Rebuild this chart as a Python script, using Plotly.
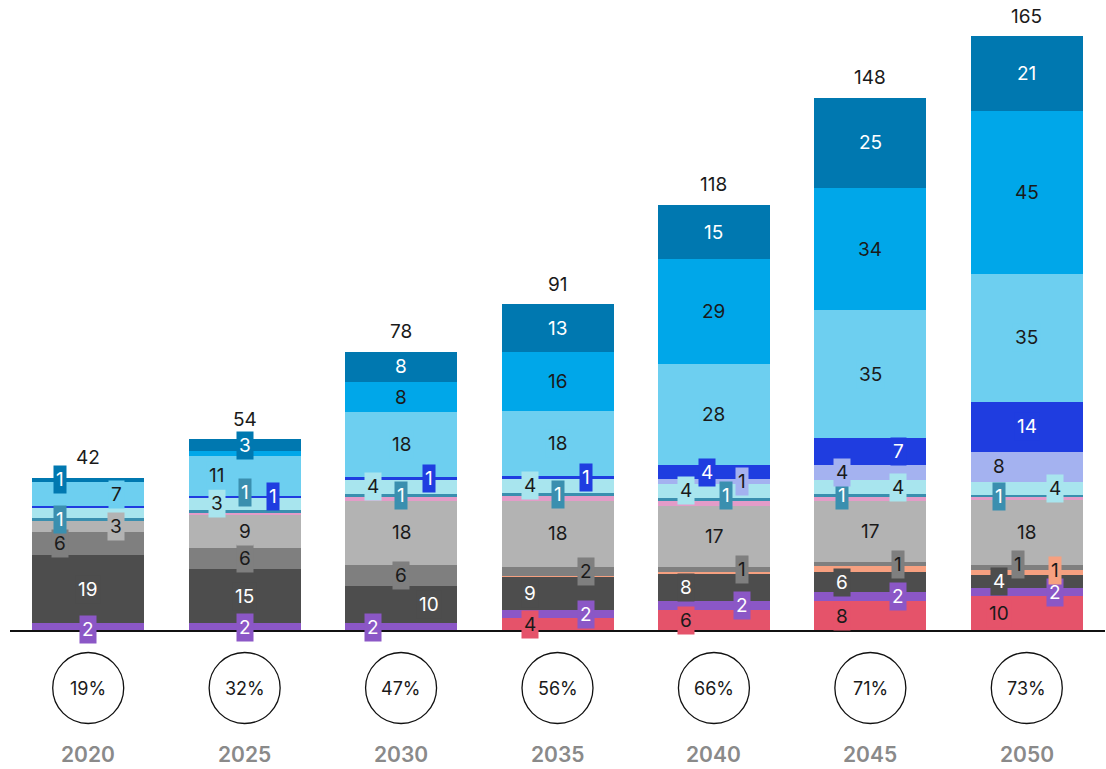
import plotly.graph_objects as go

YEARS = ["2020", "2025", "2030", "2035", "2040", "2045", "2050"]
TOTALS = [42, 54, 78, 91, 118, 148, 165]
SHARES = ["19%", "32%", "47%", "56%", "66%", "71%", "73%"]

# stacked series, bottom to top
red = [0, 0, 0, 3.5, 5.8, 8.3, 9.7]
purple = [2.2, 2.2, 2.2, 2.4, 2.4, 2.4, 2.2]
dark_grey = [18.8, 14.9, 10.2, 9.2, 7.6, 5.7, 3.6]
salmon = [0, 0, 0, 0.2, 0.55, 1.5, 1.4]
mid_grey = [6.4, 5.9, 5.9, 2.4, 1.4, 1.2, 1.4]
light_grey = [3.0, 9.4, 17.8, 18.4, 17.0, 16.9, 18.0]
pink = [0, 0.15, 0.9, 1.4, 1.4, 1.1, 0.75]
teal = [0.9, 1.1, 1.0, 0.75, 0.7, 0.9, 0.6]
pale_cyan = [2.9, 3.2, 3.9, 3.9, 4.0, 3.7, 3.7]
lavender = [0, 0, 0, 0, 1.3, 4.4, 8.3]
blue = [0.4, 0.6, 0.7, 0.7, 3.7, 7.3, 13.9]
light_blue = [6.6, 11.0, 18.0, 18.0, 28.2, 35.4, 35.4]
bright_blue = [0, 1.3, 8.3, 16.3, 28.9, 34.0, 45.0]
dark_blue = [1.3, 3.4, 8.5, 13.4, 15.1, 24.9, 20.8]

# name, values, fill, label text colour
SERIES = [
    ("red", red, "#E5536A", "#1a1a1a"),
    ("purple", purple, "#8B57C6", "white"),
    ("dark_grey", dark_grey, "#4D4D4D", "white"),
    ("salmon", salmon, "#F6A080", "#1a1a1a"),
    ("mid_grey", mid_grey, "#7F7F7F", "#1a1a1a"),
    ("light_grey", light_grey, "#B3B3B3", "#1a1a1a"),
    ("pink", pink, "#E39CC8", "#1a1a1a"),
    ("teal", teal, "#3A8FAF", "white"),
    ("pale_cyan", pale_cyan, "#A8E5EE", "#1a1a1a"),
    ("lavender", lavender, "#A4B2F0", "#1a1a1a"),
    ("blue", blue, "#1F3DE0", "white"),
    ("light_blue", light_blue, "#6DCFF0", "#1a1a1a"),
    ("bright_blue", bright_blue, "#00A7E9", "#1a1a1a"),
    ("dark_blue", dark_blue, "#0078B0", "white"),
]

# label placement: horizontal pixel shift per year (None = no label)
L, C, R = -28, 0, 28
N = None
LABEL_X = {
    "red": [N, N, N, L, L, L, L],
    "purple": [C, C, L, R, R, R, R],
    "dark_grey": [C, C, R, L, L, L, L],
    "salmon": [N, N, N, N, N, N, R],
    "mid_grey": [L, C, C, R, R, R, -9],
    "light_grey": [R, C, C, C, C, C, C],
    "pink": [N] * 7,
    "teal": [L, C, C, C, 12, L, L],
    "pale_cyan": [N, L, L, L, L, R, R],
    "lavender": [N, N, N, N, R, L, L],
    "blue": [N, R, R, R, -7, R, C],
    "light_blue": [R, L, C, C, C, C, C],
    "bright_blue": [N, N, C, C, C, C, C],
    "dark_blue": [L, C, C, C, C, C, C],
}
# small vertical nudges (pixels, up)
LABEL_DY = {("teal", 1): 19, ("teal", 4): 4, ("mid_grey", 6): 3, ("salmon", 6): 2, ("purple", 0): -2}

FONT = "Inter, Roboto, Arial, sans-serif"
PX_PER_UNIT = 3.61
W, H = 1106, 769
BASE_PX = 631             # baseline, px from top
x = list(range(len(YEARS)))

fig = go.Figure()
for name, vals, col, _ in SERIES:
    fig.add_trace(go.Bar(x=x, y=vals, name=name, marker=dict(color=col, line=dict(width=0)),
                         width=0.716, hoverinfo="y"))

annotations = []
base = [0.0] * len(YEARS)
for name, vals, col, tcol in SERIES:
    for i, v in enumerate(vals):
        dx = LABEL_X[name][i]
        if dx is not None and v > 0:
            annotations.append(dict(
                x=i, y=base[i] + v / 2, xref="x", yref="y", text=str(round(v)),
                showarrow=False, xshift=dx, yshift=LABEL_DY.get((name, i), 0),
                bgcolor=col, borderpad=2, font=dict(family=FONT, size=19, color=tcol)))
        base[i] += v

for i, t in enumerate(TOTALS):
    annotations.append(dict(x=i, y=base[i], text=str(t), showarrow=False, yshift=20,
                            font=dict(family=FONT, size=19, color="#1a1a1a")))
    annotations.append(dict(x=i, y=0, text=SHARES[i], showarrow=False, yshift=-57,
                            font=dict(family=FONT, size=18, color="#1a1a1a")))
    annotations.append(dict(x=i, y=0, text=YEARS[i], showarrow=False, yshift=-123,
                            font=dict(family=FONT, size=21, color="#8a8a8a", weight=600)))

shapes = [dict(type="line", xref="paper", yref="y", x0=0, x1=1, y0=0, y1=0,
               line=dict(color="#111", width=2))]
for i in x:
    shapes.append(dict(type="circle", xref="x", yref="y", xsizemode="pixel", ysizemode="pixel",
                       xanchor=i, yanchor=0, x0=-35.5, x1=35.5, y0=-92.5, y1=-21.5,
                       line=dict(color="#111", width=1.3)))

fig.update_layout(
    barmode="stack",
    width=W, height=H,
    margin=dict(l=10, r=1, t=0, b=0),
    plot_bgcolor="white", paper_bgcolor="white",
    showlegend=False,
    xaxis=dict(range=[-0.5, 6.5], visible=False),
    yaxis=dict(range=[-(H - BASE_PX) / PX_PER_UNIT, BASE_PX / PX_PER_UNIT], visible=False),
    annotations=annotations,
    shapes=shapes,
)

# drop the default 8px body margin so the figure fills the window
fig.write_html("out.html", config={"displayModeBar": False},
               post_script="document.body.style.margin='0';")
